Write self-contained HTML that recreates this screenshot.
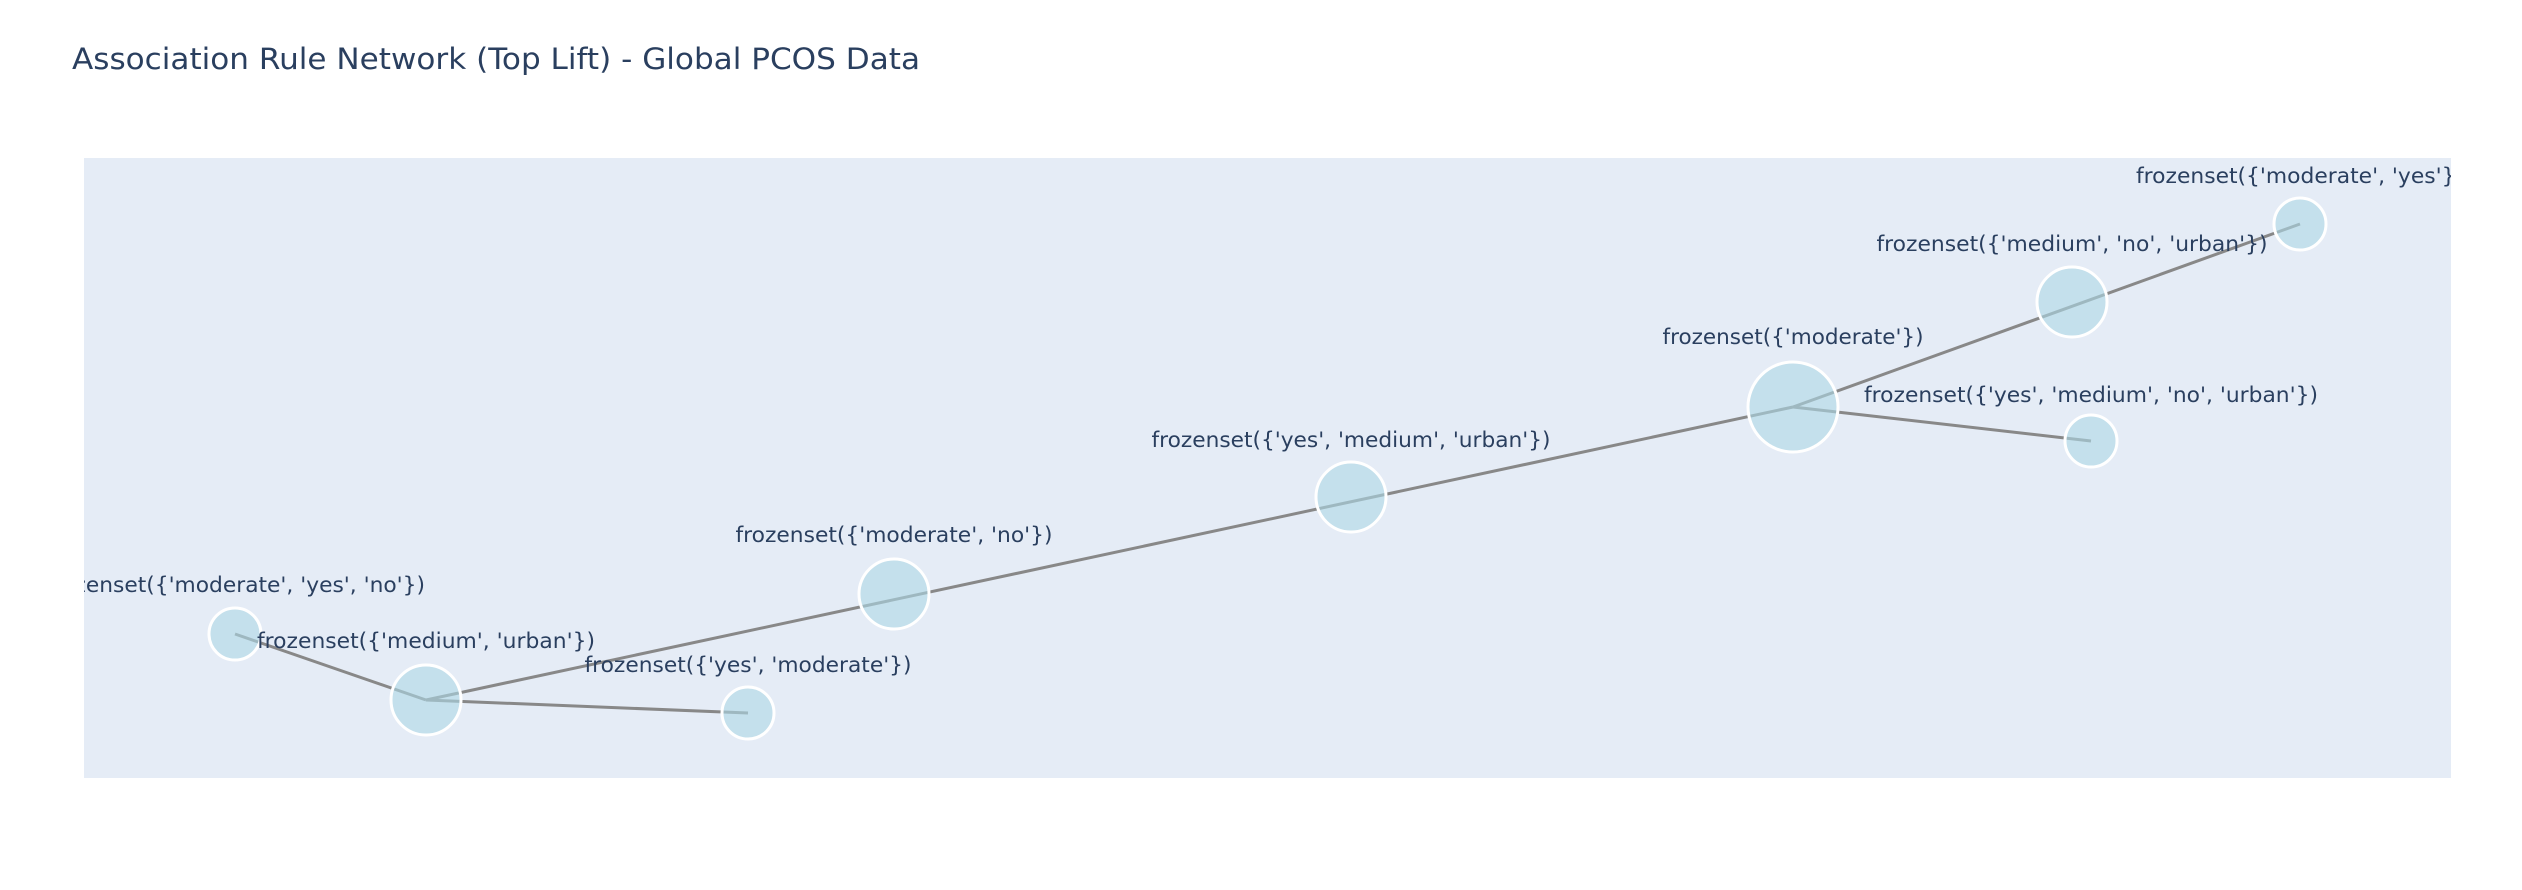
<!DOCTYPE html>
<html><head><meta charset="utf-8"><style>
html,body{margin:0;padding:0;background:#fff;}
svg{display:block;}
text{font-family:"DejaVu Sans","Liberation Sans",sans-serif;fill:#2a3f5f;}
</style></head><body>
<svg width="2522" height="890" viewBox="0 0 2522 890" xmlns="http://www.w3.org/2000/svg">
<defs><clipPath id="c"><rect x="84" y="158" width="2367" height="620"/></clipPath></defs>
<rect x="84" y="158" width="2367" height="620" fill="#e5ecf6"/>
<text x="72" y="69" font-size="29" textLength="848" lengthAdjust="spacingAndGlyphs">Association Rule Network (Top Lift) - Global PCOS Data</text>
<g clip-path="url(#c)">
<g stroke="#888" stroke-width="3" fill="none">
<line x1="235" y1="634" x2="426" y2="700"/>
<line x1="426" y1="700" x2="748" y2="713"/>
<line x1="426" y1="700" x2="1793" y2="407"/>
<line x1="1793" y1="407" x2="2300" y2="224"/>
<line x1="1793" y1="407" x2="2091" y2="441"/>
</g>
<g fill="#add8e6" fill-opacity="0.6" stroke="#fff" stroke-width="3">
<circle cx="235" cy="634" r="26"/>
<circle cx="426" cy="700" r="35"/>
<circle cx="748" cy="713" r="26"/>
<circle cx="894" cy="594" r="35"/>
<circle cx="1351" cy="497" r="35"/>
<circle cx="1793" cy="407" r="45"/>
<circle cx="2072" cy="302" r="35"/>
<circle cx="2300" cy="224" r="26"/>
<circle cx="2091" cy="441" r="26"/>
</g>
<g font-size="21" text-anchor="middle" lengthAdjust="spacingAndGlyphs">
<text x="235" y="592" textLength="380" lengthAdjust="spacingAndGlyphs">frozenset({'moderate', 'yes', 'no'})</text>
<text x="426" y="648" textLength="338" lengthAdjust="spacingAndGlyphs">frozenset({'medium', 'urban'})</text>
<text x="748" y="672" textLength="327" lengthAdjust="spacingAndGlyphs">frozenset({'yes', 'moderate'})</text>
<text x="894" y="542" textLength="317" lengthAdjust="spacingAndGlyphs">frozenset({'moderate', 'no'})</text>
<text x="1351" y="447" textLength="399" lengthAdjust="spacingAndGlyphs">frozenset({'yes', 'medium', 'urban'})</text>
<text x="1793" y="344" textLength="261" lengthAdjust="spacingAndGlyphs">frozenset({'moderate'})</text>
<text x="2072" y="251" textLength="391" lengthAdjust="spacingAndGlyphs">frozenset({'medium', 'no', 'urban'})</text>
<text x="2300" y="183" textLength="328" lengthAdjust="spacingAndGlyphs">frozenset({'moderate', 'yes'})</text>
<text x="2091" y="402" textLength="454" lengthAdjust="spacingAndGlyphs">frozenset({'yes', 'medium', 'no', 'urban'})</text>
</g>
</g>
</svg>
</body></html>
